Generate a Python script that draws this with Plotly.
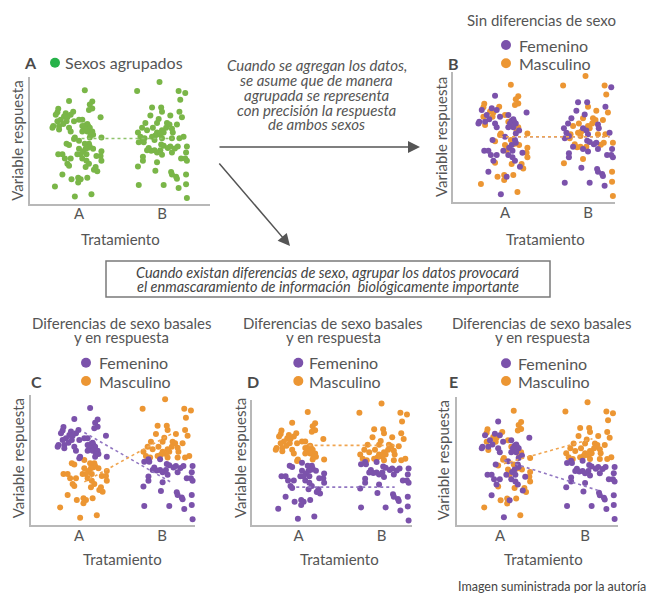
import plotly.graph_objects as go

W, H = 650, 594
FONT = "Lato"

# ---------------- data ----------------
treatments = ["A", "B"]

# Treatment A: horizontal jitter around the category and response value (0-100)
a_jitter = [0.07, -0.12, 0.16, 0.13, -0.25, 0.16, 0.12, -0.26, -0.07, -0.16,
            -0.28, -0.10, -0.18, 0.26, -0.14, 0.00, -0.22, 0.04, -0.26, -0.15,
            -0.06, -0.19, 0.10, 0.08, -0.31, -0.24, 0.04, 0.11, -0.32, -0.12,
            0.06, 0.13, -0.24, 0.08, -0.10, 0.10, 0.16, 0.04, 0.17, 0.14,
            -0.05, 0.27, 0.13, -0.06,
            0.00, -0.15, -0.12, 0.12, 0.07, 0.13, 0.11, 0.08, 0.17, 0.00,
            0.27, 0.05, -0.25, -0.20, -0.02, 0.02, 0.09, 0.21, 0.26, -0.17,
            -0.10, 0.04, 0.27, 0.09, -0.14, -0.12, 0.12, 0.08, 0.20, 0.18,
            0.22, -0.20, 0.10, -0.01, -0.09, 0.02, -0.01, -0.29, 0.15, -0.05]
a_value = [92.4, 83.7, 83.2, 80.8, 77.4, 77.6, 76.3, 74.5, 75.0, 73.7,
           72.4, 72.4, 71.1, 70.5, 70.5, 68.4, 68.4, 68.4, 67.1, 67.1,
           67.1, 65.0, 65.0, 63.9, 63.2, 63.2, 63.2, 63.2, 61.8, 61.8,
           61.8, 61.8, 60.5, 60.5, 58.7, 58.7, 58.7, 58.7, 56.1, 56.1,
           53.9, 53.9, 53.9, 52.6,
           51.3, 48.7, 47.8, 48.7, 48.7, 46.6, 45.5, 44.7, 44.7, 44.7,
           42.6, 42.6, 40.3, 40.3, 40.3, 40.3, 40.3, 38.7, 38.7, 36.8,
           36.8, 36.8, 35.0, 35.0, 32.4, 30.8, 32.4, 29.7, 29.7, 27.6,
           26.3, 23.7, 21.1, 21.1, 19.7, 19.7, 17.1, 13.9, 7.6, 5.8]

# Treatment B
b_jitter = [-0.03, -0.30, 0.20, 0.28, 0.22, -0.12, -0.01, 0.00, 0.21, -0.14,
            0.10, 0.24, -0.04, -0.20, -0.06, 0.06, 0.09, 0.18, -0.24, 0.05,
            -0.11, 0.12, -0.18, 0.00, -0.29, -0.06, 0.02, 0.13, -0.08, -0.02,
            -0.26, -0.12, 0.26, -0.21, 0.12, 0.21, 0.00,
            -0.23, -0.09, -0.28, -0.22, -0.01, 0.02, 0.30, 0.19, 0.155, 0.10,
            -0.16, 0.07, -0.13, -0.18, -0.09, -0.02, 0.29, -0.06, 0.12, 0.00,
            -0.23, 0.23, 0.28, -0.23, 0.30, -0.06, -0.29, -0.08, 0.11, 0.29,
            0.12, 0.17, 0.18, 0.29, -0.28, 0.02, 0.20, 0.30]
b_value = [99.2, 91.8, 91.8, 90.3, 84.7, 78.4, 78.4, 75.0, 75.0, 71.8,
           71.8, 70.5, 68.9, 65.8, 65.8, 65.8, 64.5, 64.5, 61.8, 61.8,
           61.8, 61.0, 59.7, 59.7, 57.9, 57.9, 57.9, 57.9, 55.5, 56.1,
           54.5, 54.5, 54.5, 53.2, 53.2, 53.2, 53.2,
           51.8, 51.8, 50.0, 50.0, 48.2, 47.1, 46.6, 46.6, 45.0, 46.6,
           45.3, 45.3, 43.0, 43.4, 43.4, 43.4, 41.6, 41.6, 41.6, 39.7,
           38.2, 36.8, 36.8, 35.0, 35.0, 33.7, 30.3, 26.8, 25.8, 23.7,
           23.7, 21.8, 20.3, 15.8, 15.0, 15.0, 12.6, 4.5]

# Sex of each point (F = Femenino, M = Masculino) in each panel
a_sex_B = ("MFMMMMMMMF" "FFMFMMFFMM" "FFFFFFMFFF" "FFMMFFMFFM" "MMFM"
           "FFMFMFMFMM" "MFFFFMFFMF" "FFMFFMFMMF" "MFMMMFMMMF")
b_sex_B = ("MMMFMFFMFF" "MMFFMMMMFM" "MFMMFFMFMF" "FMFMMMF"
           "FMFMFFMMMF" "MFMFMMFFFF" "FFFFFMMFFM" "FFFMFFFM")
a_sex_C = "F" * 44 + "M" * 40
b_sex_C = "M" * 37 + "F" * 38
a_sex_D = "M" * 44 + "F" * 40
b_sex_D = "M" * 37 + "F" * 38
a_sex_E = a_sex_B
b_sex_E = "M" * 37 + "F" * 38

# Group means (dotted lines): x extent and values at A and B
mean_A_x, mean_A = [0.03, 1.13], [53.0, 53.0]
mean_B_x, mean_B_F, mean_B_M = [-0.06, 1.26], [51.3, 51.3], [51.3, 51.3]
mean_C_x, mean_C_F, mean_C_M = [0.0, 1.06], [73.0, 33.0], [34.0, 72.4]
mean_D_xF, mean_D_F = [-0.07, 1.13], [31.5, 31.5]
mean_D_xM, mean_D_M = [0.08, 1.13], [65.3, 65.3]
mean_E_xF, mean_E_F = [-0.05, 1.13], [52.1, 27.0]
mean_E_xM, mean_E_M = [-0.05, 1.03], [49.4, 69.6]

assert len(a_jitter) == len(a_value) == len(a_sex_B) == len(a_sex_C) == len(a_sex_D)
assert len(b_jitter) == len(b_value) == len(b_sex_B) == len(b_sex_C) == len(b_sex_D)

# ---------------- style ----------------
GREEN, GREEN_DOT = "#7ab648", "#27b24a"
PURPLE, ORANGE = "#7b52ab", "#ec9633"
PURPLE_L, ORANGE_L, GREEN_L = "#9277c2", "#f0a550", "#8fc36c"
AXC = "#b8b8b8"
TXT = "#555555"

# panel geometry in pixels: name, left, right, top, bottom, A-centre, unit, zero px, px/unit, tickA px, tickB px
panels = [
    ("A", 30, 210, 77, 203.5, 79, 83, 203.5, 1.225, 79, 162),
    ("B", 453, 615, 72, 201.7, 505, 83, 201.7, 1.267, 505, 588),
    ("C", 30.7, 195, 395, 525, 84.3, 83.3, 525, 1.267, 79, 162),
    ("D", 252, 412, 400, 525, 302, 82, 526, 1.235, 298.5, 381.5),
    ("E", 456.5, 618, 397, 525, 508, 82, 524.5, 1.232, 500, 585),
]

fig = go.Figure()
layout = dict(width=W, height=H, margin=dict(l=0, r=0, t=0, b=0),
              paper_bgcolor="white", plot_bgcolor="white", showlegend=False,
              font=dict(family=FONT, color=TXT))

for i, (name, L, R, Yt, Yb, cA, u, P0, s, tA, tB) in enumerate(panels, 1):
    sx = "" if i == 1 else str(i)
    layout["xaxis" + sx] = dict(
        domain=[L / W, R / W], range=[(L - cA) / u, (R - cA) / u], anchor="y" + sx,
        tickvals=[(tA - cA) / u, (tB - cA) / u], ticktext=treatments,
        showline=True, linecolor=AXC, linewidth=1.6, showgrid=False, zeroline=False,
        ticks="", ticklabelstandoff=-4,
        tickfont=dict(size=15, color=TXT, family=FONT), fixedrange=True)
    layout["yaxis" + sx] = dict(
        domain=[1 - Yb / H, 1 - Yt / H], range=[(P0 - Yb) / s, (P0 - Yt) / s], anchor="x" + sx,
        showline=True, linecolor=AXC, linewidth=1.6, showgrid=False, zeroline=False,
        showticklabels=False, ticks="", fixedrange=True)


def pts(sex_a, sex_b, who):
    xs, ys = [], []
    for j, v, sx in zip(a_jitter, a_value, sex_a):
        if who is None or sx == who:
            xs.append(0 + j); ys.append(v)
    for j, v, sx in zip(b_jitter, b_value, sex_b):
        if who is None or sx == who:
            xs.append(1 + j); ys.append(v)
    return xs, ys


def add_pts(xs, ys, color, ax):
    fig.add_trace(go.Scatter(x=xs, y=ys, mode="markers", xaxis="x" + ax, yaxis="y" + ax,
                             marker=dict(size=6, color=color, line=dict(width=0)),
                             hoverinfo="skip", cliponaxis=False))


def add_line(xs, ys, color, ax):
    fig.add_trace(go.Scatter(x=xs, y=ys, mode="lines", xaxis="x" + ax, yaxis="y" + ax,
                             line=dict(color=color, width=1.6, dash="dot"), hoverinfo="skip"))


# Panel A
x, y = pts(a_sex_B, b_sex_B, None)
add_pts(x, y, GREEN, "")
add_line(mean_A_x, mean_A, GREEN_L, "")

# Panels B..E
for ax, sa, sb in [("2", a_sex_B, b_sex_B), ("3", a_sex_C, b_sex_C),
                   ("4", a_sex_D, b_sex_D), ("5", a_sex_E, b_sex_E)]:
    x, y = pts(sa, sb, "M"); add_pts(x, y, ORANGE, ax)
    x, y = pts(sa, sb, "F"); add_pts(x, y, PURPLE, ax)

add_line(mean_B_x, mean_B_F, PURPLE_L, "2")
add_line(mean_B_x, mean_B_M, ORANGE_L, "2")
add_line(mean_C_x, mean_C_F, PURPLE_L, "3")
add_line(mean_C_x, mean_C_M, ORANGE_L, "3")
add_line(mean_D_xF, mean_D_F, PURPLE_L, "4")
add_line(mean_D_xM, mean_D_M, ORANGE_L, "4")
add_line(mean_E_xF, mean_E_F, PURPLE_L, "5")
add_line(mean_E_xM, mean_E_M, ORANGE_L, "5")

# ---------------- annotations ----------------
anns, shapes = [], []


def text(t, px, py, size=15, color=TXT, xanchor="center", angle=0):
    anns.append(dict(text=t, x=px / W, y=1 - py / H, xref="paper", yref="paper",
                     xanchor=xanchor, yanchor="middle", showarrow=False, textangle=angle,
                     font=dict(size=size, color=color, family=FONT)))


def dot(px, py, color, r=5):
    shapes.append(dict(type="circle", xref="paper", yref="paper",
                       x0=(px - r) / W, x1=(px + r) / W, y0=1 - (py + r) / H, y1=1 - (py - r) / H,
                       fillcolor=color, line=dict(width=0)))


# panel letters
for lt, px, py in [("A", 30, 62.7), ("B", 453.3, 63.3), ("C", 36.7, 381),
                   ("D", 253.3, 381), ("E", 453.3, 381)]:
    text("<b>" + lt + "</b>", px, py, size=16, color="#4a4a4a")

# axis titles
for px, py in [(120.8, 239.3), (545.8, 239.3), (122.5, 559), (339, 559), (543, 559)]:
    text("Tratamiento", px, py, size=15)
for px, py in [(16.7, 141), (441, 137), (18.3, 458), (240, 458), (443.3, 460)]:
    text("Variable respuesta", px, py, size=15, angle=-90)

# legend A
dot(55, 62.7, GREEN_DOT)
text("Sexos agrupados", 63, 62.7, size=16, xanchor="left")

# legends B..E
for cx, tx, y1, y2 in [(506, 516.7, 45, 63.3), (86, 96.7, 362.7, 381),
                       (298.3, 307.3, 362.7, 381), (506, 516, 363.3, 381)]:
    dot(cx, y1, PURPLE)
    dot(cx, y2, ORANGE)
    text("Femenino", tx, y1, size=16, xanchor="left")
    text("Masculino", tx, y2, size=16, xanchor="left")

# titles
text("Sin diferencias de sexo", 541.7, 20, size=15)
for cx in [121.7, 333.3, 542]:
    text("Diferencias de sexo basales", cx, 322.7, size=15)
    text("y en respuesta", cx, 337, size=15)

# middle explanatory text
for t, py in [("Cuando se agregan los datos,", 65), ("se asume que de manera", 80.5),
              ("agrupada se representa", 95), ("con precisión la respuesta", 110),
              ("de ambos sexos", 124.5)]:
    text("<i>" + t + "</i>", 316.7, py, size=15)

# boxed text
shapes.append(dict(type="rect", xref="paper", yref="paper",
                   x0=106 / W, x1=550 / W, y0=1 - 297 / H, y1=1 - 261 / H,
                   line=dict(color="#7a7a7a", width=1.5), fillcolor="rgba(0,0,0,0)"))
text("<i>Cuando existan diferencias de sexo, agrupar los datos provocará</i>", 328, 272.5, size=14.5, color="#444")
text("<i>el enmascaramiento de información  biológicamente importante</i>", 328, 286.5, size=14.5, color="#444")

# arrows
for tip, tail in [((420, 147), (218, 147)), ((290, 246), (218, 162))]:
    anns.append(dict(text="", x=tip[0] / W, y=1 - tip[1] / H, xref="paper", yref="paper",
                     ax=tail[0] - tip[0], ay=tail[1] - tip[1], axref="pixel", ayref="pixel",
                     showarrow=True, arrowhead=2, arrowsize=1.6, arrowwidth=1.5,
                     arrowcolor="#555555"))

# footer
text("Imagen suministrada por la autoría", 648, 586, size=12.5, color="#444", xanchor="right")

layout["annotations"] = anns
layout["shapes"] = shapes
fig.update_layout(**layout)
fig.write_html("out.html", config={"displayModeBar": False},
               post_script="document.body.style.margin='0px';")
